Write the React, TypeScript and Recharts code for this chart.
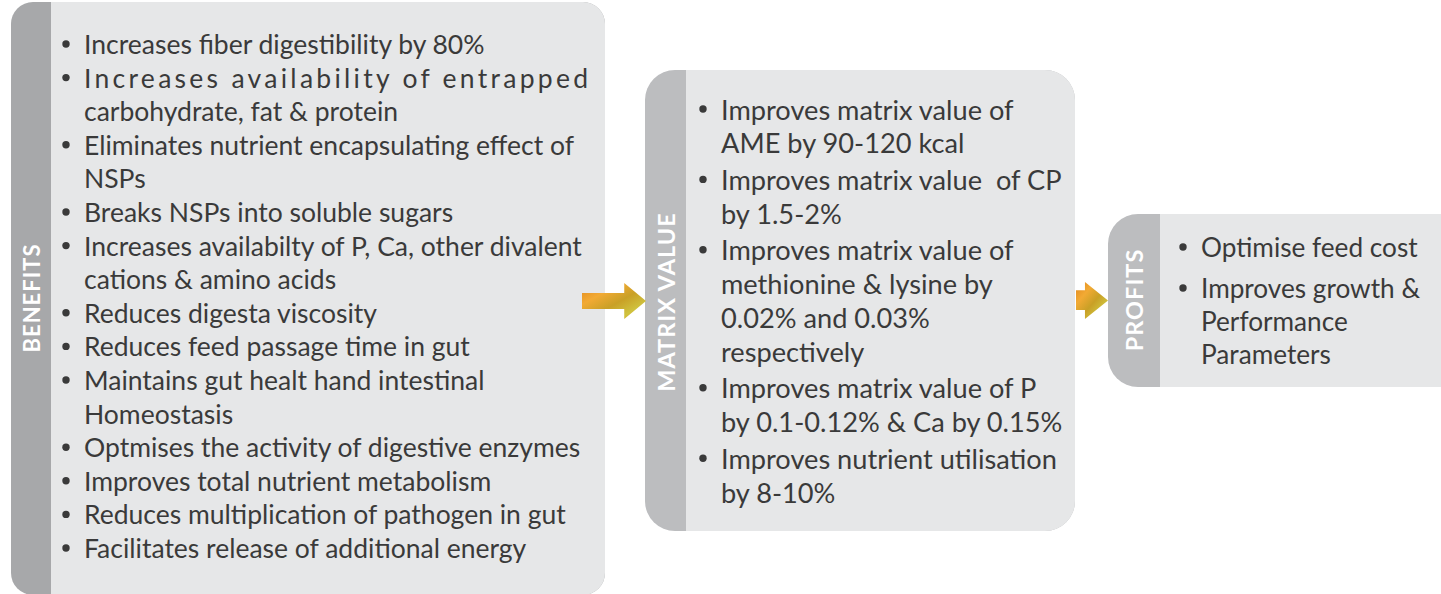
import { ComposedChart, XAxis, YAxis, Scatter, ReferenceArea } from 'recharts';

// text of each box, one inner array per bullet (wrapped lines as in the picture)
const benefitsTitle = 'BENEFITS';
const benefitsItems = [
  ['Increases fiber digestibility by 80%'],
  ['Increases availability of entrapped', 'carbohydrate, fat & protein'],
  ['Eliminates nutrient encapsulating effect of', 'NSPs'],
  ['Breaks NSPs into soluble sugars'],
  ['Increases availabilty of P, Ca, other divalent', 'cations & amino acids'],
  ['Reduces digesta viscosity'],
  ['Reduces feed passage time in gut'],
  ['Maintains gut healt hand intestinal', 'Homeostasis'],
  ['Optmises the activity of digestive enzymes'],
  ['Improves total nutrient metabolism'],
  ['Reduces multiplication of pathogen in gut'],
  ['Facilitates release of additional energy'],
];

const matrixTitle = 'MATRIX VALUE';
const matrixItems = [
  ['Improves matrix value of', 'AME by 90-120 kcal'],
  ['Improves matrix value  of CP', 'by 1.5-2%'],
  ['Improves matrix value of', 'methionine & lysine by', '0.02% and 0.03%', 'respectively'],
  ['Improves matrix value of P', 'by 0.1-0.12% & Ca by 0.15%'],
  ['Improves nutrient utilisation', 'by 8-10%'],
];

const profitsTitle = 'PROFITS';
const profitsItems = [
  ['Optimise feed cost'],
  ['Improves growth &', 'Performance', 'Parameters'],
];

// lines that are justified to the full box width
const justified: Record<string, number> = { 'Increases availability of entrapped': 504 };

const W = 1441;
const H = 594;
const FONT = 'Lato, "Open Sans", sans-serif';
const TEXT = '#3a3a3a';
const BODY = '#e6e7e8';

const panels = [
  { key: 'benefits', title: benefitsTitle, items: benefitsItems, x1: 11, x2: 605, y1: 2, y2: 595, strip: 51, r: 22,
    stripFill: '#a7a8aa', textX: 84, bulletX: 66, firstY: 44, lineH: 33.6, gap: 0, fontSize: 26.5, titleY: 298, titleSize: 22 },
  { key: 'matrix', title: matrixTitle, items: matrixItems, x1: 645, x2: 1075, y1: 70, y2: 531, strip: 686, r: 30,
    stripFill: '#bcbdbf', textX: 721, bulletX: 703, firstY: 109, lineH: 33.8, gap: 2.8, fontSize: 27.2, titleY: 302, titleSize: 23.5 },
  { key: 'profits', title: profitsTitle, items: profitsItems, x1: 1108, x2: 1470, y1: 214, y2: 387, strip: 1160, r: 30,
    stripFill: '#bcbdbf', textX: 1201, bulletX: 1183, firstY: 247, lineH: 33, gap: 8, fontSize: 26.2, titleY: 300, titleSize: 23.5 },
];
const panelByKey: Record<string, any> = Object.fromEntries(panels.map((p) => [p.key, p]));

const arrows = [
  { id: 'a1', x1: 582, x2: 646, y1: 283, y2: 319, head: 0.66, shaftTop: 0.28, shaftBot: 0.72 },
  { id: 'a2', x1: 1076, x2: 1108, y1: 282, y2: 319, head: 0.28, shaftTop: 0.22, shaftBot: 0.76 },
];

const lineRows = panels.flatMap((p) => {
  const rows: any[] = [];
  let y = p.firstY;
  p.items.forEach((item, i) => {
    if (i > 0) y += p.gap;
    item.forEach((line, j) => {
      rows.push({ x: p.textX, y, text: line, bullet: j === 0, panel: p.key });
      y += p.lineH;
    });
  });
  return rows;
});

const titleRows = panels.map((p) => ({ x: (p.x1 + p.strip) / 2, y: p.titleY, text: p.title, panel: p.key }));

function roundRect(x: number, y: number, w: number, h: number, r: number) {
  return `M${x + r},${y} H${x + w - r} A${r},${r} 0 0 1 ${x + w},${y + r} V${y + h - r} A${r},${r} 0 0 1 ${x + w - r},${y + h}
    H${x + r} A${r},${r} 0 0 1 ${x},${y + h - r} V${y + r} A${r},${r} 0 0 1 ${x + r},${y} Z`;
}

function rightRound(x: number, y: number, w: number, h: number, r: number) {
  return `M${x},${y} H${x + w - r} A${r},${r} 0 0 1 ${x + w},${y + r} V${y + h - r} A${r},${r} 0 0 1 ${x + w - r},${y + h} H${x} Z`;
}

const PanelShape = (p: any) => (props: any) => {
  const { x, y, width, height } = props;
  const sw = (width * (p.strip - p.x1)) / (p.x2 - p.x1);
  return (
    <g>
      <path d={roundRect(x, y, width, height, p.r)} fill={p.stripFill} />
      <path d={rightRound(x + sw, y, width - sw, height, p.r)} fill={BODY} />
    </g>
  );
};

const ArrowShape = (a: any) => (props: any) => {
  const { x, y, width, height } = props;
  const hx = x + width * a.head;
  const st = y + height * a.shaftTop;
  const sb = y + height * a.shaftBot;
  const pts = `${x},${st} ${hx},${st} ${hx},${y} ${x + width},${y + height / 2} ${hx},${y + height} ${hx},${sb} ${x},${sb}`;
  return (
    <g>
      <defs>
        <linearGradient id={`grad-${a.id}`} x1="0" y1="0" x2="1" y2="1">
          <stop offset="0" stopColor="#e0861c" />
          <stop offset="0.3" stopColor="#f2aa34" />
          <stop offset="0.55" stopColor="#c9a026" />
          <stop offset="0.78" stopColor="#cfc23e" />
          <stop offset="1" stopColor="#e39a1e" />
        </linearGradient>
      </defs>
      <polygon points={pts} fill={`url(#grad-${a.id})`} />
    </g>
  );
};

const LineShape = (props: any) => {
  const { cx, cy, payload } = props;
  const p = panelByKey[payload.panel];
  const jw = justified[payload.text];
  return (
    <g>
      {payload.bullet && <circle cx={cx - (p.textX - p.bulletX)} cy={cy} r={3.7} fill={TEXT} />}
      <text
        x={cx}
        y={cy}
        dominantBaseline="central"
        fontSize={p.fontSize}
        fontFamily={FONT}
        fill={TEXT}
        style={{ whiteSpace: 'pre' }}
        {...(jw ? { textLength: jw, lengthAdjust: 'spacing' } : {})}
      >
        {payload.text}
      </text>
    </g>
  );
};

const TitleShape = (props: any) => {
  const { cx, cy, payload } = props;
  const p = panelByKey[payload.panel];
  return (
    <text
      x={cx}
      y={cy}
      transform={`rotate(-90 ${cx} ${cy})`}
      textAnchor="middle"
      dominantBaseline="central"
      fontSize={p.titleSize}
      fontWeight={700}
      letterSpacing={1}
      fontFamily={FONT}
      fill="#ffffff"
    >
      {payload.text}
    </text>
  );
};

export default function App() {
  return (
    <div style={{ width: W, height: H, background: '#fff' }}>
      <style>{'body{margin:0}'}</style>
      <ComposedChart width={W} height={H} margin={{ top: 0, right: 0, bottom: 0, left: 0 }}>
        <XAxis type="number" dataKey="x" domain={[0, W]} allowDataOverflow hide />
        <YAxis type="number" dataKey="y" domain={[0, H]} reversed allowDataOverflow hide />
        {panels.map((p) => (
          <ReferenceArea key={p.key} x1={p.x1} x2={p.x2} y1={p.y1} y2={p.y2} ifOverflow="visible" shape={PanelShape(p)} />
        ))}
        {arrows.map((a) => (
          <ReferenceArea key={a.id} x1={a.x1} x2={a.x2} y1={a.y1} y2={a.y2} ifOverflow="visible" shape={ArrowShape(a)} />
        ))}
        <Scatter data={lineRows} shape={LineShape} isAnimationActive={false} />
        <Scatter data={titleRows} shape={TitleShape} isAnimationActive={false} />
      </ComposedChart>
    </div>
  );
}
